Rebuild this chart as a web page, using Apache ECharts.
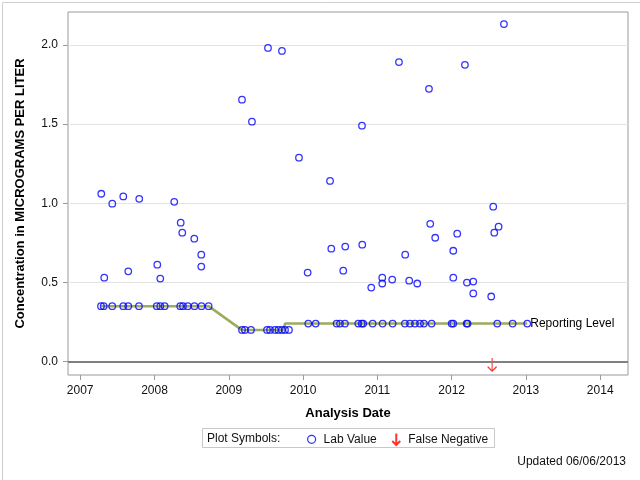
<!DOCTYPE html>
<html>
<head>
<meta charset="utf-8">
<script src="https://cdn.jsdelivr.net/npm/echarts@6/dist/echarts.min.js"></script>
<style>html,body{margin:0;padding:0;background:#fff}#c{width:640px;height:480px}</style>
</head>
<body>
<div id="c"></div>
<script>
// Tick labels
const yearTicks = [2007, 2008, 2009, 2010, 2011, 2012, 2013, 2014];
const valueTicks = [0, 0.5, 1.0, 1.5, 2.0];

// Detected lab values (decimal year, concentration)
const detectDates = [
  2007.284, 2007.324, 2007.432, 2007.580, 2007.647, 2007.795, 2008.038, 2008.078,
  2008.266, 2008.353, 2008.374, 2008.536, 2008.630, 2008.630,
  2009.178, 2009.312, 2009.528, 2009.716, 2009.945, 2010.062, 2010.363, 2010.380,
  2010.541, 2010.568, 2010.793, 2010.797, 2010.918, 2011.066, 2011.066, 2011.200,
  2011.291, 2011.375, 2011.429, 2011.537, 2011.695, 2011.712, 2011.779, 2012.022,
  2012.022, 2012.075, 2012.179, 2012.206, 2012.291, 2012.291, 2012.533, 2012.560,
  2012.574, 2012.632, 2012.704
];
const detectValues = [
  1.060, 0.530, 0.997, 1.043, 0.570, 1.028, 0.612, 0.524,
  1.009, 0.877, 0.814, 0.776, 0.675, 0.600,
  1.654, 1.515, 1.981, 1.962, 1.288, 0.562, 1.141, 0.713,
  0.574, 0.726, 1.490, 0.738, 0.467, 0.530, 0.493, 0.518,
  1.892, 0.675, 0.511, 0.493, 1.723, 0.870, 0.782, 0.700,
  0.530, 0.808, 1.874, 0.499, 0.505, 0.430, 0.411, 0.978,
  0.814, 0.852, 2.132
];

// Non-detects plotted at the reporting level
const ndDates = [
  2007.280, 2007.316, 2007.431, 2007.580, 2007.647, 2007.791, 2008.031, 2008.078,
  2008.137, 2008.347, 2008.384, 2008.448, 2008.538, 2008.633, 2008.729,
  2009.178, 2009.218, 2009.299, 2009.515, 2009.555, 2009.622, 2009.669, 2009.716,
  2009.757, 2009.810,
  2010.070, 2010.170, 2010.452, 2010.497, 2010.564, 2010.743, 2010.789, 2010.810,
  2010.937, 2011.071, 2011.206, 2011.371, 2011.439, 2011.506, 2011.574, 2011.627,
  2011.731, 2012.000, 2012.022, 2012.202, 2012.215, 2012.614, 2012.821, 2013.018
];
const ndValues = [
  0.35, 0.35, 0.35, 0.35, 0.35, 0.35, 0.35, 0.35,
  0.35, 0.35, 0.35, 0.35, 0.35, 0.35, 0.35,
  0.20, 0.20, 0.20, 0.20, 0.20, 0.20, 0.20, 0.20,
  0.20, 0.20,
  0.24, 0.24, 0.24, 0.24, 0.24, 0.24, 0.24, 0.24,
  0.24, 0.24, 0.24, 0.24, 0.24, 0.24, 0.24, 0.24,
  0.24, 0.24, 0.24, 0.24, 0.24, 0.24, 0.24, 0.24
];

// Reporting level line vertices
const rlDates = [2007.280, 2008.729, 2009.174, 2009.739, 2009.757, 2013.018];
const rlValues = [0.35, 0.35, 0.20, 0.20, 0.24, 0.24];

// False negatives
const fnDates = [2012.545];
const fnValues = [0];

const pair = (xs, ys) => xs.map((x, i) => [x, ys[i]]);
const FONT = 'Liberation Sans, Arial, sans-serif';
const arrowPath = 'path://M5,0 L5,13 M0.5,8.5 L5,13 L9.5,8.5';

const chart = echarts.init(document.getElementById('c'), null, {renderer: 'canvas'});
chart.setOption({
  animation: false,
  backgroundColor: '#ffffff',
  textStyle: {fontFamily: FONT},
  grid: {left: 68, right: 12, top: 12, bottom: 105, show: true, borderColor: '#9a9a9a', borderWidth: 1, backgroundColor: '#fff'},
  xAxis: {
    type: 'value', min: 2006.836, max: 2014.374,
    name: 'Analysis Date', nameLocation: 'middle', nameGap: 32,
    nameTextStyle: {fontFamily: FONT, fontSize: 13, fontWeight: 'bold', color: '#000'},
    axisLine: {show: false, onZero: false},
    axisTick: {show: true, customValues: yearTicks, length: 5, inside: false, lineStyle: {color: '#9a9a9a'}},
    axisLabel: {customValues: yearTicks, formatter: v => String(Math.round(v)), fontSize: 12, color: '#111', margin: 10, fontFamily: FONT},
    splitLine: {show: false}
  },
  yAxis: {
    type: 'value', min: -0.085, max: 2.208,
    name: 'Concentration in MICROGRAMS PER LITER', nameLocation: 'middle', nameGap: 41,
    nameTextStyle: {fontFamily: FONT, fontSize: 13, fontWeight: 'bold', color: '#000'},
    axisLine: {show: false, onZero: false},
    axisTick: {show: true, customValues: valueTicks, length: 5, lineStyle: {color: '#9a9a9a'}},
    axisLabel: {customValues: valueTicks, formatter: v => v.toFixed(1), fontSize: 12, color: '#111', margin: 10, fontFamily: FONT},
    splitLine: {show: true, lineStyle: {color: '#e3e3e3', width: 1}}
  },
  legend: {
    data: [
      {name: 'Lab Value', icon: 'circle', itemStyle: {borderWidth: 1.2}},
      {name: 'False Negative', icon: arrowPath}
    ],
    left: 307, top: 431, padding: 0, itemWidth: 8, itemHeight: 12, itemGap: 13,
    textStyle: {fontSize: 12, color: '#111', fontFamily: FONT, padding: [0, 0, 0, 3]},
    selectedMode: false
  },
  graphic: [
    {type: 'rect', left: 0, top: 0, shape: {x: 0.5, y: 0.5, width: 639, height: 479}, style: {fill: 'none', stroke: '#cfcfcf', lineWidth: 1}, silent: true, z: -10},
    {type: 'rect', shape: {x: 202.5, y: 428.5, width: 292, height: 19}, style: {fill: 'none', stroke: '#c8c8c8', lineWidth: 1}, silent: true},
    {type: 'text', x: 207, y: 439, style: {text: 'Plot Symbols:', fontSize: 12, fontFamily: FONT, fill: '#111', textVerticalAlign: 'middle'}, silent: true},
    {type: 'text', right: 14, top: 456, style: {text: 'Updated 06/06/2013', fontSize: 12, fontFamily: FONT, fill: '#111'}, silent: true}
  ],
  series: [
    {
      name: 'Reporting Level', type: 'line', data: pair(rlDates, rlValues),
      symbol: 'none', z: 1, silent: true,
      lineStyle: {color: '#9aad5c', width: 2.5},
      endLabel: {show: true, formatter: 'Reporting Level', color: '#000', fontSize: 12, fontFamily: FONT, distance: 3},
      markLine: {
        silent: true, symbol: 'none', label: {show: false},
        lineStyle: {color: '#808080', width: 2, type: 'solid'},
        data: [{yAxis: 0}]
      }
    },
    {
      name: 'Lab Value', type: 'scatter', z: 3,
      data: pair(detectDates, detectValues).concat(pair(ndDates, ndValues)),
      symbol: 'circle', symbolSize: 6.5,
      itemStyle: {color: 'rgba(255,255,255,0)', borderColor: '#0000ff', borderWidth: 1.3}
    },
    {
      name: 'False Negative', type: 'scatter', z: 4,
      data: pair(fnDates, fnValues),
      symbol: arrowPath, symbolSize: [9, 13], symbolOffset: [0, 3],
      itemStyle: {color: 'none', borderColor: '#ff0000', borderWidth: 1.3}
    }
  ]
});
</script>
</body>
</html>
